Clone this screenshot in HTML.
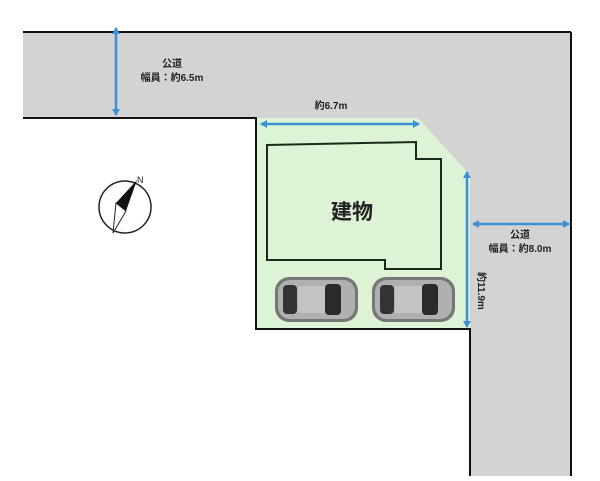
<!DOCTYPE html>
<html><head><meta charset="utf-8"><style>
body{margin:0;background:#fff}
svg text{font-family:"Liberation Sans","Noto Sans CJK JP",sans-serif;fill:#222}
</style></head><body>
<svg width="600" height="476" viewBox="0 0 600 476" xmlns="http://www.w3.org/2000/svg">
<defs>
<marker id="a" markerWidth="8" markerHeight="8" refX="6" refY="4" orient="auto-start-reverse" markerUnits="userSpaceOnUse"><path d="M0,0 L7,4 L0,8 z" fill="#3d8fd6"/></marker>
<g id="car">
<rect x="0" y="0" width="83" height="45" rx="14" fill="#777"/>
<rect x="3" y="3" width="77" height="39" rx="12" fill="#b0b0b0"/>
<rect x="8" y="8" width="14" height="29" rx="4" fill="#333"/>
<rect x="50" y="7" width="16" height="31" rx="4" fill="#2a2a2a"/>
<rect x="23" y="9" width="27" height="27" fill="#c4c4c4"/>
</g>
</defs>
<rect x="23" y="32" width="548" height="86" fill="#d3d3d3"/>
<rect x="418" y="32" width="153" height="444" fill="#d3d3d3"/>
<polygon points="256,118 418,118 470,175 470,330 256,330" fill="#ddf3d5"/>
<rect x="256" y="330" width="214" height="146" fill="#fff"/>
<line x1="23" y1="32" x2="571" y2="32" stroke="#111" stroke-width="2"/>
<line x1="571" y1="32" x2="571" y2="476" stroke="#111" stroke-width="2"/>
<line x1="23" y1="118" x2="257" y2="118" stroke="#111" stroke-width="2"/>
<polyline points="256,118 256,329 470,329 470,476" fill="none" stroke="#111" stroke-width="2"/>
<polygon points="267,145 416,142 416,159 441,159 441,269 385,269 385,260 267,260" fill="none" stroke="#1a2a1a" stroke-width="2"/>
<text x="352" y="219" font-size="21" font-weight="bold" text-anchor="middle">建物</text>
<use href="#car" x="275" y="277"/>
<use href="#car" x="372" y="277"/>
<g stroke="#3d8fd6" stroke-width="2.5">
<line x1="116" y1="28" x2="116" y2="115" marker-start="url(#a)" marker-end="url(#a)"/>
<line x1="261" y1="124" x2="419" y2="124" marker-start="url(#a)" marker-end="url(#a)"/>
<line x1="467" y1="172" x2="467" y2="327" marker-start="url(#a)" marker-end="url(#a)"/>
<line x1="473" y1="224" x2="569" y2="224" marker-start="url(#a)" marker-end="url(#a)"/>
</g>
<g font-weight="bold">
<text x="172" y="67" font-size="10" text-anchor="middle">公道</text>
<text x="172" y="81" font-size="10" text-anchor="middle">幅員：約6.5m</text>
<text x="331" y="109" font-size="10" text-anchor="middle">約6.7m</text>
<text x="520" y="238" font-size="10" text-anchor="middle">公道</text>
<text x="520" y="252" font-size="10" text-anchor="middle">幅員：約8.0m</text>
<text x="0" y="0" font-size="10" transform="translate(478,272) rotate(90)">約11.9m</text>
</g>
<circle cx="125" cy="207" r="26" fill="none" stroke="#222" stroke-width="1.5"/>
<polygon points="137,180 116,203 126,211" fill="#111"/>
<polygon points="116,203 126,211 113,233" fill="#fff" stroke="#222" stroke-width="1"/>
<text x="137" y="183" font-size="9">N</text>
</svg>
</body></html>
